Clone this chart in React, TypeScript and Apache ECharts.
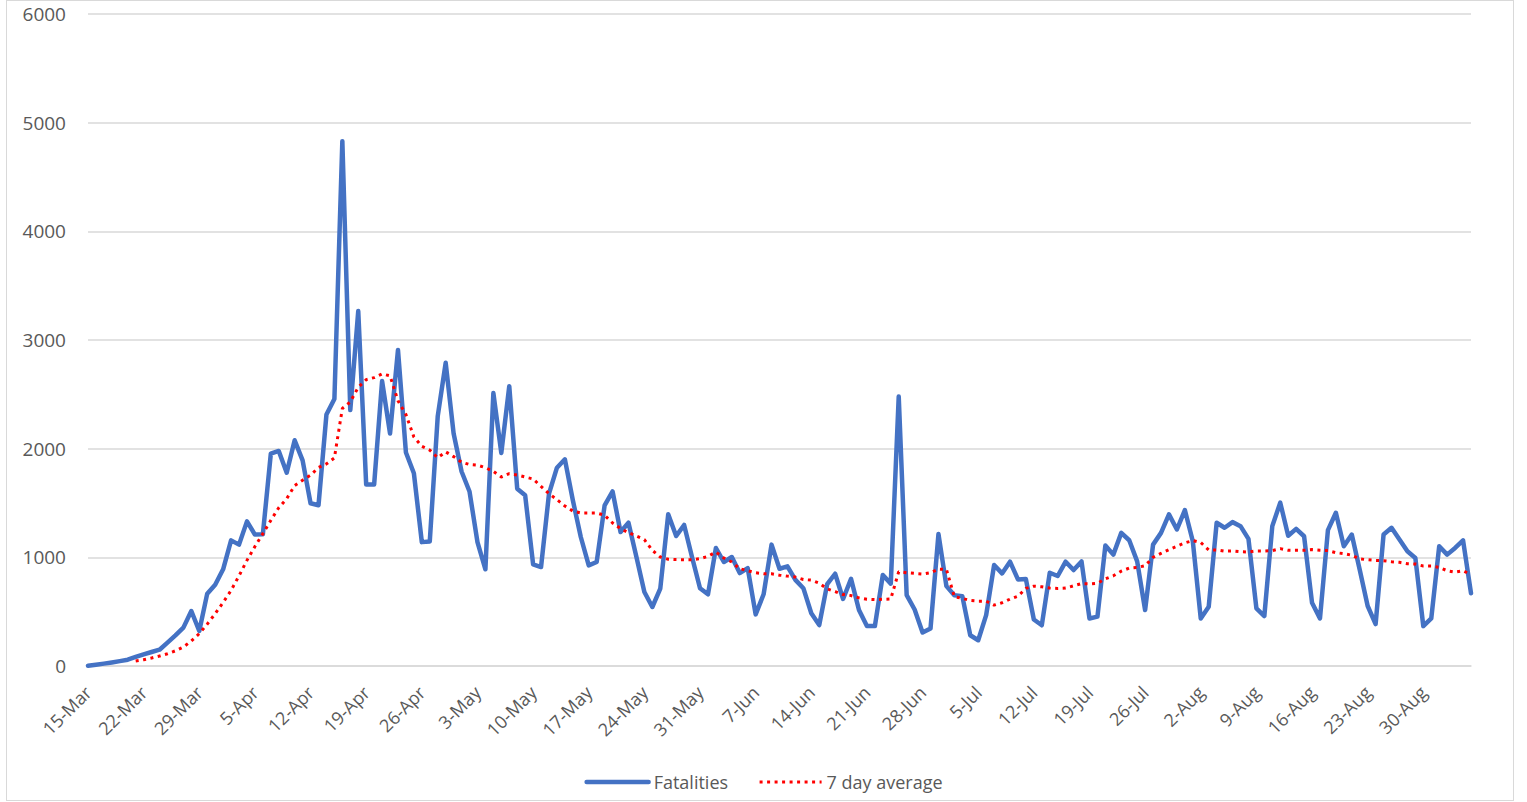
import { useEffect, useRef } from "react";
import * as echarts from "echarts";

// daily fatalities, 15-Mar .. 5-Sep
const fatalities = [
    3, 12, 22, 33, 45, 58, 83, 107, 129, 150,
    215, 282, 353, 506, 322, 666, 748, 890, 1156, 1117,
    1331, 1209, 1212, 1954, 1979, 1779, 2077, 1892, 1498, 1479,
    2314, 2457, 4830, 2355, 3266, 1670, 1670, 2622, 2140, 2908,
    1965, 1774, 1140, 1146, 2298, 2790, 2140, 1790, 1606, 1140,
    890, 2512, 1960, 2574, 1632, 1571, 936, 911, 1586, 1825,
    1902, 1525, 1187, 926, 957, 1479, 1607, 1233, 1319, 1003,
    681, 543, 712, 1396, 1196, 1298, 1000, 716, 660, 1086,
    957, 1003, 855, 901, 475, 660, 1117, 895, 917, 793,
    716, 485, 377, 753, 849, 617, 802, 515, 367, 367,
    838, 758, 2480, 652, 520, 308, 345, 1215, 735, 652,
    643, 283, 237, 468, 929, 852, 960, 797, 800, 428,
    375, 858, 828, 960, 883, 962, 437, 454, 1108, 1025,
    1225, 1157, 963, 515, 1117, 1225, 1395, 1256, 1435, 1148,
    438, 546, 1318, 1272, 1324, 1287, 1170, 531, 460, 1287,
    1503, 1198, 1262, 1194, 583, 438, 1250, 1410, 1102, 1210,
    886, 552, 386, 1210, 1272, 1164, 1056, 994, 367, 438,
    1102, 1025, 1086, 1157, 670
];

// 7 day average as drawn (starts on 21-Mar)
const weekAverage = [
    null, null, null, null, null, null, 46, 58, 74, 92,
    113, 140, 175, 230, 298, 385, 481, 585, 696, 830,
    972, 1100, 1218, 1340, 1457, 1540, 1660, 1710, 1756, 1826,
    1860, 1915, 2370, 2430, 2565, 2635, 2654, 2688, 2670, 2440,
    2314, 2108, 2022, 1987, 1917, 1971, 1927, 1876, 1854, 1848,
    1825, 1791, 1739, 1770, 1758, 1739, 1721, 1653, 1586, 1531,
    1472, 1426, 1408, 1408, 1408, 1387, 1316, 1264, 1227, 1196,
    1163, 1064, 1003, 982, 979, 978, 978, 988, 1009, 1049,
    994, 957, 895, 877, 858, 849, 849, 836, 827, 818,
    796, 790, 762, 710, 685, 657, 648, 627, 614, 611,
    614, 617, 868, 858, 852, 846, 858, 892, 889, 637,
    622, 603, 597, 597, 560, 582, 615, 643, 714, 735,
    729, 717, 714, 717, 738, 758, 756, 762, 802, 830,
    873, 901, 907, 923, 1000, 1037, 1071, 1102, 1133, 1154,
    1136, 1068, 1068, 1056, 1059, 1052, 1049, 1059, 1059, 1062,
    1080, 1065, 1065, 1065, 1071, 1065, 1062, 1043, 1034, 1019,
    985, 978, 972, 969, 960, 954, 941, 938, 920, 920,
    907, 877, 864, 877, 840
];

const monthNames = ["Mar", "Apr", "May", "Jun", "Jul", "Aug", "Sep"];
const monthLengths = [31, 30, 31, 30, 31, 31, 30];
const firstDay = 15;

const yTicks = { min: 0, max: 6000, step: 1000 };

function buildDays(count: number) {
    const days: string[] = [];
    let m = 0;
    let d = firstDay;
    for (let i = 0; i < count; i++) {
        days.push(`${d}-${monthNames[m]}`);
        d++;
        if (d > monthLengths[m]) {
            d = 1;
            m++;
        }
    }
    return days;
}

const days = buildDays(fatalities.length);

const FONT = "'Open Sans', sans-serif";
const GREY = "#595959";
const BLUE = "#4472C4";
const RED = "#FF0000";

function FatalitiesChart() {

    const chartRef =
        useRef<HTMLDivElement>(null);

    useEffect(() => {

        if (!chartRef.current)
            return;

        const chart =
            echarts.init(chartRef.current, null, { renderer: "svg" });

        chart.setOption({
            animation: false,
            textStyle: { fontFamily: FONT },
            grid: {
                left: 88,
                right: 56,
                top: 14,
                bottom: 136
            },
            legend: {
                left: "center",
                top: 768,
                itemWidth: 62,
                itemHeight: 20,
                itemGap: 30,
                itemStyle: { opacity: 0 },
                textStyle: {
                    fontSize: 18,
                    color: GREY,
                    fontFamily: FONT
                },
                data: [
                    {
                        name: "Fatalities",
                        lineStyle: { width: 4.5, color: BLUE }
                    },
                    {
                        name: "7 day average",
                        lineStyle: { width: 3, color: RED, type: [3, 4.5] }
                    }
                ]
            },
            xAxis: {
                type: "category",
                boundaryGap: false,
                data: days,
                axisLine: {
                    lineStyle: { color: "#d9d9d9", width: 1.5 }
                },
                axisTick: { show: false },
                axisLabel: {
                    interval: 6,
                    rotate: 45,
                    margin: 23,
                    fontSize: 18,
                    color: GREY,
                    fontFamily: FONT
                }
            },
            yAxis: {
                type: "value",
                min: yTicks.min,
                max: yTicks.max,
                interval: yTicks.step,
                axisLine: { show: false },
                axisTick: { show: false },
                axisLabel: {
                    margin: 22,
                    fontSize: 19,
                    color: GREY,
                    fontFamily: FONT,
                    formatter: (v: number) => String(v)
                },
                splitLine: {
                    lineStyle: { color: "#d9d9d9", width: 1.5 }
                }
            },
            series: [
                {
                    name: "Fatalities",
                    type: "line",
                    data: fatalities,
                    symbol: "none",
                    lineStyle: {
                        color: BLUE,
                        width: 4.5,
                        join: "round",
                        cap: "round"
                    },
                    itemStyle: { color: BLUE }
                },
                {
                    name: "7 day average",
                    type: "line",
                    data: weekAverage,
                    symbol: "none",
                    lineStyle: {
                        color: RED,
                        width: 3,
                        type: [3, 4.5]
                    },
                    itemStyle: { color: RED }
                }
            ]
        });

        return () => {
            chart.dispose();
        };

    }, []);

    return (
        <div
            style={{
                position: "fixed",
                left: 0,
                top: 0,
                width: "1527px",
                height: "802px",
                background: "#fff"
            }}
        >
            <div
                style={{
                    position: "absolute",
                    left: "6px",
                    top: "0px",
                    width: "1508px",
                    height: "801px",
                    border: "1px solid #d9d9d9",
                    boxSizing: "border-box",
                    pointerEvents: "none"
                }}
            />
            <div
                ref={chartRef}
                style={{
                    position: "absolute",
                    left: 0,
                    top: 0,
                    width: "1527px",
                    height: "802px"
                }}
            />
        </div>
    );
}

export default function App() {
    return <FatalitiesChart />;
}
